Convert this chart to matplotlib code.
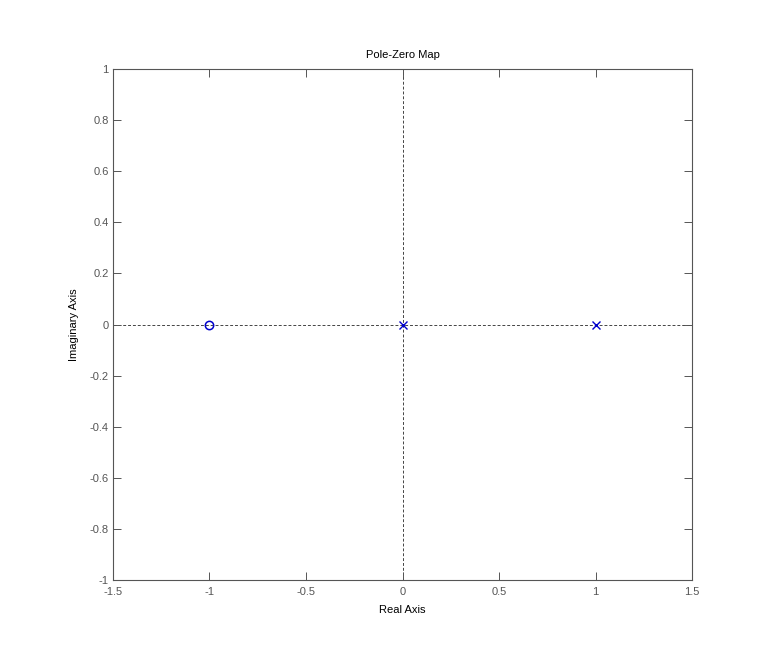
import matplotlib
matplotlib.use('Agg')
import matplotlib.pyplot as plt

zeros_re = [-1.0]
zeros_im = [0.0]
poles_re = [0.0, 1.0]
poles_im = [0.0, 0.0]

xticks = [-1.5, -1, -0.5, 0, 0.5, 1, 1.5]
yticks = [-1, -0.8, -0.6, -0.4, -0.2, 0, 0.2, 0.4, 0.6, 0.8, 1]

plt.rcParams['font.family'] = ['Liberation Sans', 'DejaVu Sans']

fig = plt.figure(figsize=(7.65, 6.54), dpi=100)
ax = fig.add_axes([0.1477, 0.1131, 0.7569, 0.7814])

ax.axhline(0, color='#444444', linestyle=(0, (3, 2)), linewidth=0.7, zorder=1)
ax.axvline(0, color='#444444', linestyle=(0, (3, 2)), linewidth=0.7, zorder=1)

ax.plot(zeros_re, zeros_im, linestyle='none', marker='o', markersize=6,
        markerfacecolor='none', markeredgecolor='#0000cc', markeredgewidth=1.1, zorder=3)
ax.plot(poles_re, poles_im, linestyle='none', marker='x', markersize=5.5,
        color='#0000cc', markeredgewidth=1.0, zorder=3)

ax.set_xlim(-1.5, 1.5)
ax.set_ylim(-1, 1)
ax.set_xticks(xticks)
ax.set_xticklabels(['-1.5', '-1', '-0.5', '0', '0.5', '1', '1.5'])
ax.set_yticks(yticks)
ax.set_yticklabels(['-1', '-0.8', '-0.6', '-0.4', '-0.2', '0', '0.2', '0.4', '0.6', '0.8', '1'])

ax.tick_params(direction='in', top=True, right=True, length=6, width=0.7,
               colors='#555555', labelsize=8)
ax.tick_params(axis='x', pad=5)
ax.tick_params(axis='y', pad=3)
for s in ax.spines.values():
    s.set_color('#555555')
    s.set_linewidth(0.8)

ax.set_title('Pole-Zero Map', fontsize=8, pad=8)
ax.set_xlabel('Real Axis', fontsize=8, labelpad=6)
ax.set_ylabel('Imaginary Axis', fontsize=8, labelpad=8)

fig.savefig('out.png', dpi=100)
